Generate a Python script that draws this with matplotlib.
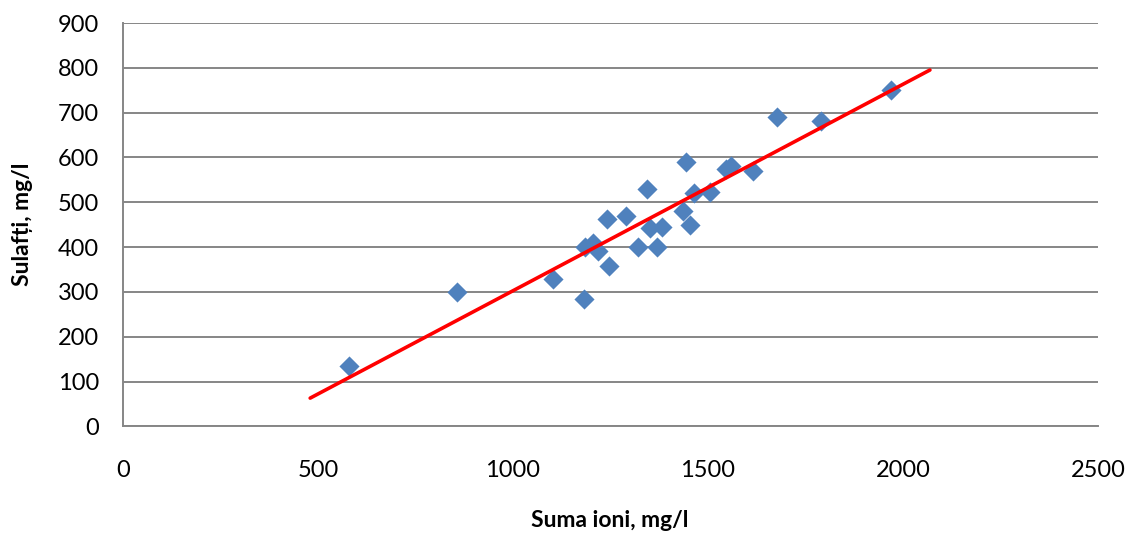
import numpy as np
import matplotlib
matplotlib.use("Agg")
import matplotlib.pyplot as plt

plt.rcParams['font.family'] = ['Lato', 'DejaVu Sans']

# suma ionilor vs. sulfati (mg/l)
suma_ioni = [580, 857, 1102, 1183, 1185, 1206, 1219, 1240, 1246, 1291, 1321,
             1343, 1351, 1368, 1381, 1437, 1444, 1454, 1465, 1505, 1545, 1560,
             1615, 1676, 1789, 1969]
sulfati = [135, 300, 329, 285, 400, 410, 392, 463, 357, 470, 400,
           530, 443, 400, 445, 480, 589, 450, 521, 524, 575, 580,
           569, 690, 682, 750]

x_ticks = [0, 500, 1000, 1500, 2000, 2500]
y_ticks = [0, 100, 200, 300, 400, 500, 600, 700, 800, 900]

x = np.array(suma_ioni, dtype=float)
y = np.array(sulfati, dtype=float)

# dreapta de regresie, prelungita 100 mg/l la ambele capete
panta, interceptie = np.polyfit(x, y, 1)
x_fit = np.array([x.min() - 100, x.max() + 100])
y_fit = panta * x_fit + interceptie

fig = plt.figure(figsize=(11.27, 5.33), dpi=100)
ax = fig.add_axes([0.1091, 0.2, 0.8652, 0.7568])

gri = '#868686'
ax.scatter(x, y, marker='D', s=105, color='#4F81BD', linewidths=0, zorder=3)
ax.plot(x_fit, y_fit, color='#FF0000', lw=2.6, solid_capstyle='round', zorder=4)

ax.set_xlim(0, 2500)
ax.set_ylim(0, 900)
ax.set_xticks(x_ticks)
ax.set_yticks(y_ticks)
ax.grid(axis='y', color=gri, lw=1.4)
ax.set_axisbelow(True)

for s in ['top', 'right']:
    ax.spines[s].set_visible(False)
for s in ['left', 'bottom']:
    ax.spines[s].set_color(gri)
    ax.spines[s].set_linewidth(1.4)

ax.tick_params(axis='x', length=0, pad=24, labelsize=17)
ax.tick_params(axis='y', length=0, pad=17, labelsize=17)

fig.text(0.541, 0.024, 'Suma ioni, mg/l', ha='center', va='center',
         fontsize=16.5, fontweight='bold')
fig.text(0.0204, 0.58, 'Sulafți, mg/l', ha='center', va='center',
         rotation=90, fontsize=16.5, fontweight='bold')

fig.savefig('out.png', dpi=100)
